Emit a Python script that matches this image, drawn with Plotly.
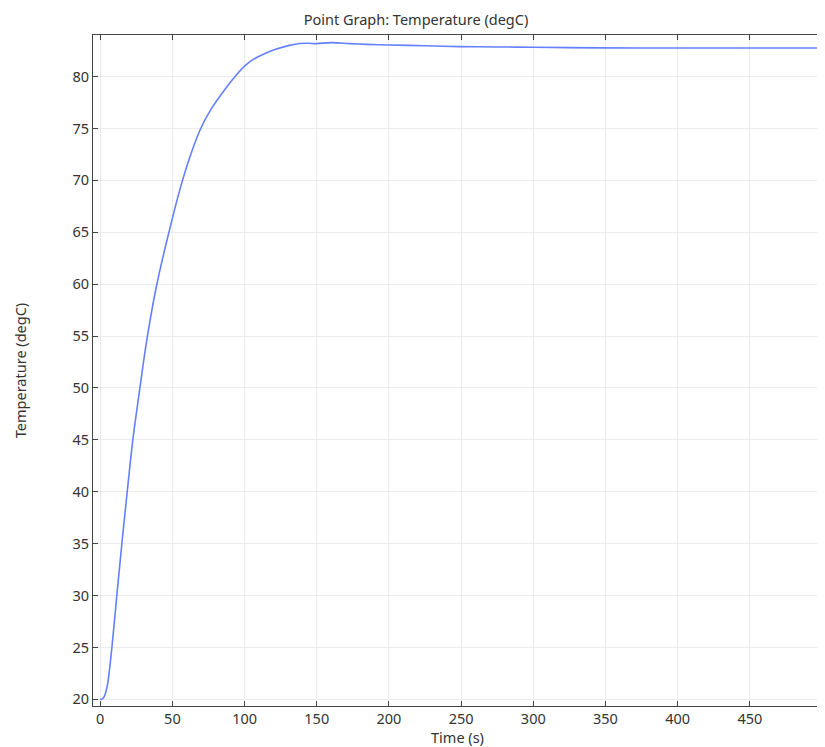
import plotly.graph_objects as go

time_s = [0, 1, 2.5, 4.9, 8.1, 11.5, 15, 18.7, 22.6, 27.5, 31.9, 38.8, 47.6, 56.6,
          63, 69.3, 77, 87.4, 94, 100, 106, 113, 121, 131, 138, 144, 150, 160,
          173, 185, 200, 225, 249, 275, 300, 346, 400, 450, 500]
temp_c = [20.0, 20.02, 20.2, 21.3, 25.0, 30.0, 35.0, 40.0, 45.0, 50.0, 54.3, 59.7, 65.0, 69.8,
          72.6, 74.9, 76.9, 78.95, 80.1, 81.0, 81.65, 82.15, 82.6, 83.0, 83.18, 83.2, 83.17, 83.27,
          83.17, 83.1, 83.04, 82.96, 82.88, 82.85, 82.82, 82.76, 82.75, 82.75, 82.75]

x_ticks = [0, 50, 100, 150, 200, 250, 300, 350, 400, 450, 500]
x_labels = ["0", "50", "100", "150", "200", "250", "300", "350", "400", "450", ""]
y_ticks = [20, 25, 30, 35, 40, 45, 50, 55, 60, 65, 70, 75, 80]

fig = go.Figure()
fig.add_trace(go.Scatter(
    x=time_s, y=temp_c, mode="lines",
    line=dict(color="rgb(100,128,255)", width=1.6, shape="spline", smoothing=0.8),
    showlegend=False,
))

W, H = 817, 739
tick_font = dict(family="Noto Sans", size=14.5, color="#333333")
title_font = dict(family="Noto Sans", size=14.5, color="#333333")
axis_common = dict(
    showline=True, linecolor="#444444", linewidth=1, mirror="ticks",
    ticks="inside", ticklen=5, tickcolor="#444444",
    showgrid=True, gridcolor="#ebebeb", gridwidth=1, zeroline=False,
    tickfont=tick_font, automargin=False,
)
fig.update_layout(
    width=W, height=H,
    margin=dict(l=85, r=3, t=27, b=41),
    paper_bgcolor="white", plot_bgcolor="white",
    title=dict(text="Point Graph: Temperature (degC)", x=408 / W, xanchor="center",
               y=1 - 12 / H, yanchor="middle", yref="container",
               font=dict(family="Noto Sans", size=14.5, color="#333333")),
    xaxis=dict(range=[-5, 500], tickvals=x_ticks, ticktext=x_labels,
               title=dict(text="Time (s)", font=title_font, standoff=7), **axis_common),
    yaxis=dict(range=[19.36, 84.0], tickvals=y_ticks,
               title=dict(text="Temperature (degC)", font=title_font, standoff=42), **axis_common),
)
fig.write_html("out.html")
